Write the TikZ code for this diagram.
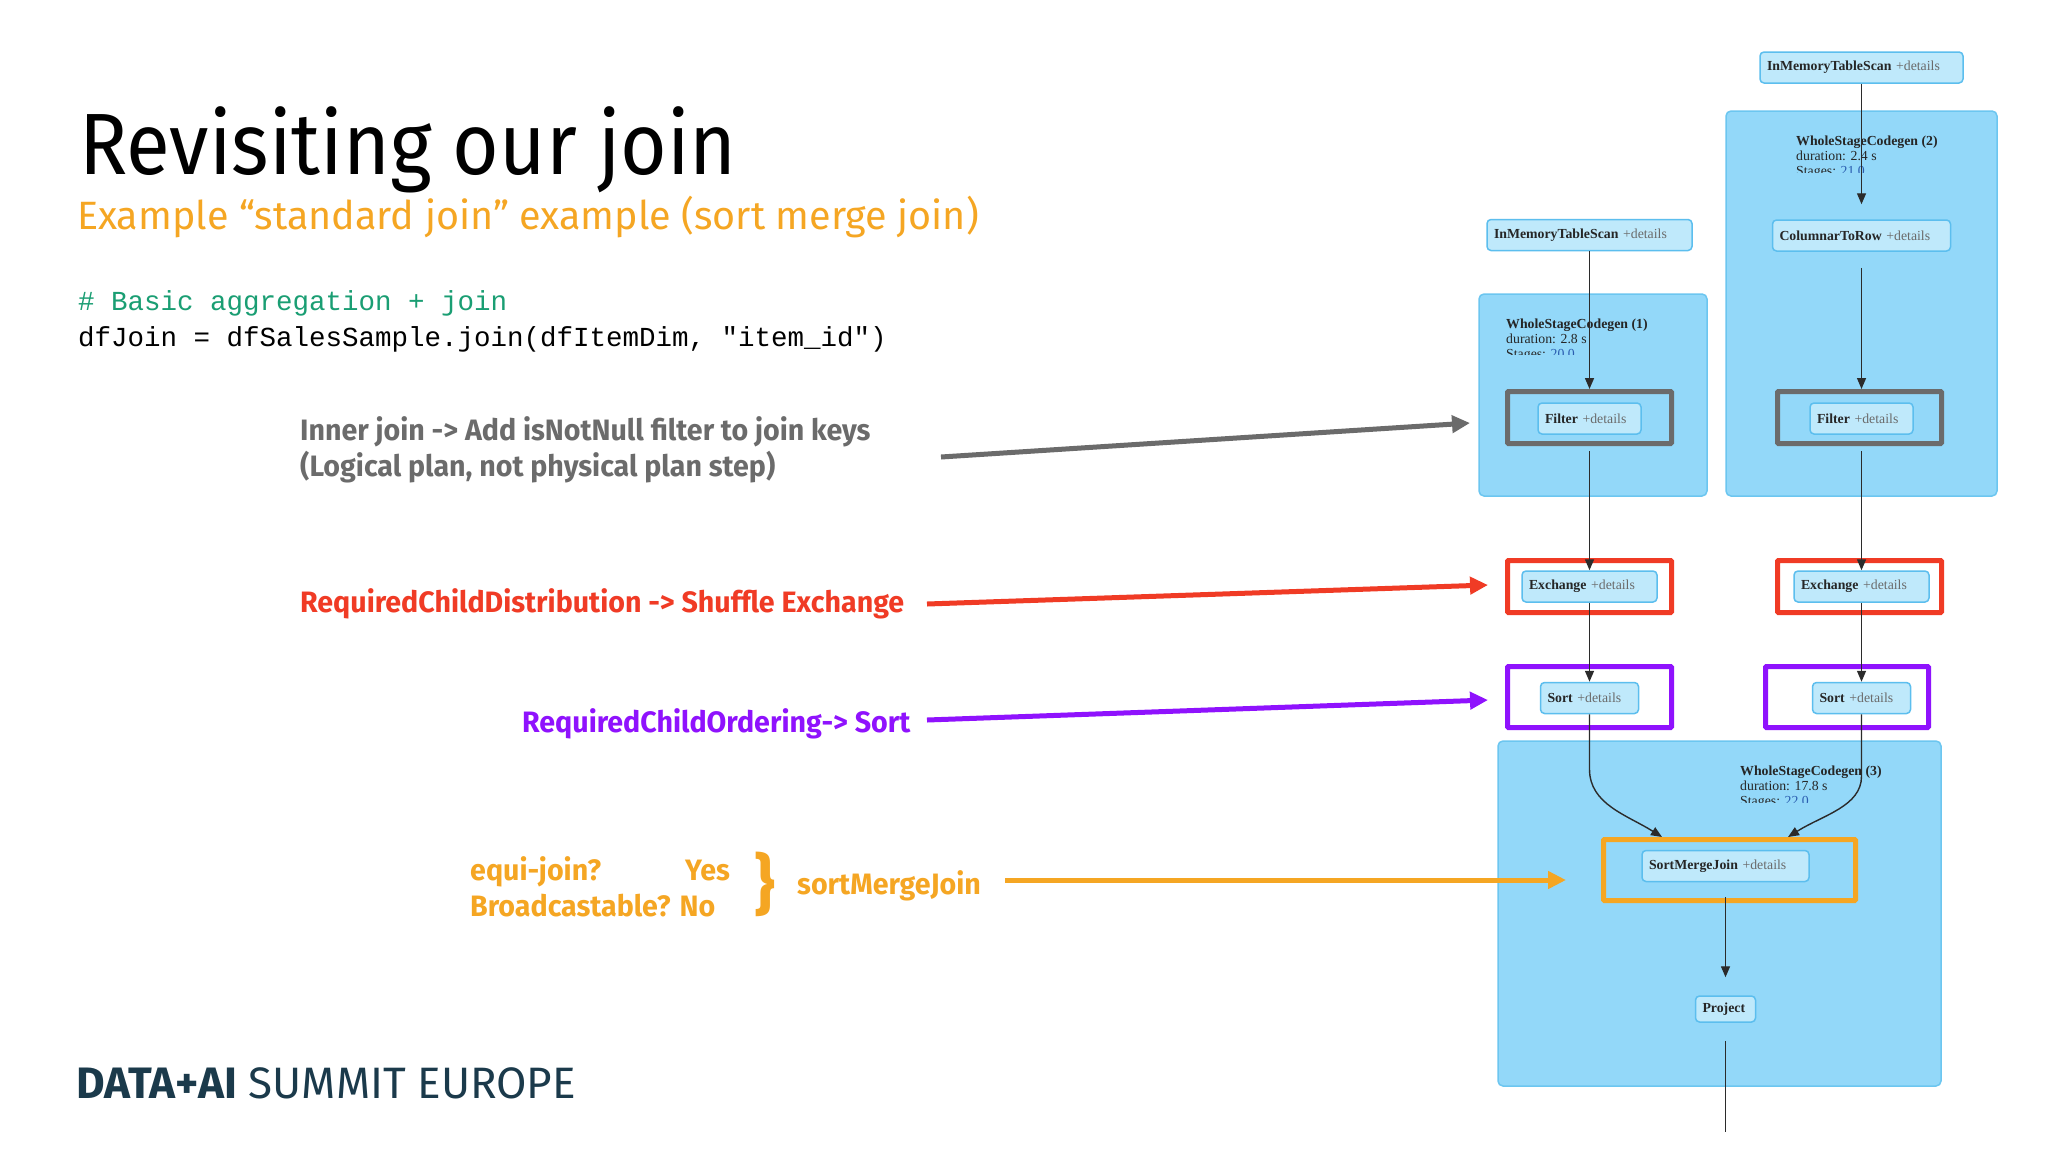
\documentclass[tikz,border=0pt]{standalone}
\usepackage{fontspec}
\usetikzlibrary{arrows.meta}
\setmainfont{Fira Sans}
\newfontfamily\titlefont[FakeStretch=0.92]{Fira Sans}
\newfontfamily\notefont[FakeStretch=0.97]{Fira Sans}
\newfontfamily\codefont{Liberation Mono}
\newfontfamily\graphfont{Liberation Serif}

\definecolor{subtitleorange}{HTML}{F5A623}
\definecolor{codegreen}{HTML}{1A9E73}
\definecolor{notegrey}{HTML}{6B6B6B}
\definecolor{notered}{HTML}{F03B25}
\definecolor{notepurple}{HTML}{8F12FD}
\definecolor{footerteal}{HTML}{1B3A4B}
\definecolor{clusterfill}{HTML}{93D8F9}
\definecolor{clusterborder}{HTML}{6CC6F0}
\definecolor{nodefill}{HTML}{BFE9FB}
\definecolor{nodeborder}{HTML}{5CBEEE}
\definecolor{detailgrey}{HTML}{6A6A6A}
\definecolor{linkblue}{HTML}{2A5DB0}
\definecolor{edgecol}{HTML}{2B2B2B}

\newcommand{\plusdetails}{\textcolor{detailgrey}{\mdseries +details}}

\begin{document}
\begin{tikzpicture}[
    x = 1pt, y = -1pt,
    slidetext/.style={anchor=base west, inner sep=0pt},
    notetext/.style={anchor=base west, inner sep=0pt, font=\notefont\bfseries\fontsize{29.5}{32}\selectfont},
    cluster/.style={draw=clusterborder, fill=clusterfill, line width=1.5pt, rounded corners=5pt, inner sep=0pt},
    plannode/.style={draw=nodeborder, fill=nodefill, line width=1.5pt, rounded corners=4pt, inner xsep=7pt, inner ysep=0pt, minimum height=31pt, text width=#1, align=left, font=\graphfont\bfseries\fontsize{13.8}{15}\selectfont, text=black!85},
    planlabel/.style={anchor=base west, inner sep=0pt, font=\graphfont\fontsize{13.8}{15}\selectfont, text=black!85},
    frame/.style={draw=#1, line width=5pt, rounded corners=1pt, inner sep=0pt},
    graphedge/.style={draw=edgecol, line width=1.4pt, -{Triangle[length=11pt, width=9pt]}},
    graphline/.style={draw=edgecol, line width=1.4pt},
    slidearrow/.style={draw=#1, line width=5pt, -{Triangle[length=18pt, width=17pt]}}
]
    % Page
    \fill[white] (0,0) rectangle (2048,1152);
    \useasboundingbox (0,0) rectangle (2048,1152);

    % Title and code
    \node[slidetext, font=\titlefont\fontsize{87}{90}\selectfont] (title) at (79,174) {Revisiting our join};
    \node[slidetext, font=\fontsize{39.5}{42}\selectfont, text=subtitleorange] (subtitle) at (77,229) {Example “standard join” example (sort merge join)};
    \node[slidetext, font=\codefont\fontsize{27.5}{30}\selectfont, text=codegreen] (comment) at (78,310) {\# Basic aggregation + join};
    \node[slidetext, font=\codefont\fontsize{27.5}{30}\selectfont] (code) at (78,346) {dfJoin = dfSalesSample.join(dfItemDim, "item\_id")};

    % Notes
    \node[notetext, text=notegrey] (notnull) at (300,440) {Inner join -> Add isNotNull filter to join keys};
    \node[notetext, text=notegrey] (logical) at (300,476) {(Logical plan, not physical plan step)};
    \node[notetext, text=notered] (distrib) at (300,612) {RequiredChildDistribution -> Shuffle Exchange};
    \node[notetext, text=notepurple] (ordering) at (522,732) {RequiredChildOrdering-> Sort};
    \node[notetext, text=subtitleorange] (equi) at (470,880) {equi-join?};
    \node[notetext, text=subtitleorange] (yes) at (685,880) {Yes};
    \node[notetext, text=subtitleorange] (bcast) at (470,916) {Broadcastable? No};
    \node[font=\notefont\bfseries\fontsize{66}{66}\selectfont, text=subtitleorange, inner sep=0pt] (brace) at (765,884) {\}};
    \node[notetext, text=subtitleorange] (smjtxt) at (797,894) {sortMergeJoin};

    % Footer
    \node[slidetext, font=\fontsize{44}{46}\selectfont, text=footerteal] (footer) at (76,1098) {\textbf{DATA+AI} SUMMIT EUROPE};

    % Clusters
    \node[cluster, minimum width=228pt, minimum height=202pt] (cl1) at (1593,395) {};
    \node[cluster, minimum width=271pt, minimum height=385pt] (cl2) at (1861.5,303.5) {};
    \node[cluster, minimum width=443pt, minimum height=345pt] (cl3) at (1719.5,913.5) {};

    % Cluster labels
    \node[planlabel] (wsc1) at (1506,328) {\textbf{WholeStageCodegen (1)}};
    \node[planlabel] (dur1) at (1506,343) {duration: 2.8 s};
    \node[planlabel] (wsc2) at (1796,145) {\textbf{WholeStageCodegen (2)}};
    \node[planlabel] (dur2) at (1796,160) {duration: 2.4 s};
    \node[planlabel] (wsc3) at (1740,775) {\textbf{WholeStageCodegen (3)}};
    \node[planlabel] (dur3) at (1740,790) {duration: 17.8 s};
    \begin{scope}
        \clip (1500,345) rectangle (1700,354);
        \node[planlabel] (stg1) at (1506,358) {Stages: \textcolor{linkblue}{20.0}};
    \end{scope}
    \begin{scope}
        \clip (1790,162) rectangle (1990,172);
        \node[planlabel] (stg2) at (1796,175) {Stages: \textcolor{linkblue}{21.0}};
    \end{scope}
    \begin{scope}
        \clip (1735,792) rectangle (1935,802);
        \node[planlabel] (stg3) at (1740,805) {Stages: \textcolor{linkblue}{22.0}};
    \end{scope}

    % Plan nodes
    \node[plannode=189pt] (imtsR) at (1861.5,67.5) {InMemoryTableScan \plusdetails};
    \node[plannode=191pt] (imtsL) at (1589.5,235) {InMemoryTableScan \plusdetails};
    \node[plannode=164pt] (c2r) at (1861.5,235.5) {ColumnarToRow \plusdetails};
    \node[plannode=89pt] (filterL) at (1589.5,418.5) {Filter \plusdetails};
    \node[plannode=89pt] (filterR) at (1861.5,418.5) {Filter \plusdetails};
    \node[plannode=121pt] (exchL) at (1589.5,586.5) {Exchange \plusdetails};
    \node[plannode=121pt] (exchR) at (1861.5,586.5) {Exchange \plusdetails};
    \node[plannode=84pt] (sortL) at (1589.5,698) {Sort \plusdetails};
    \node[plannode=84pt] (sortR) at (1861.5,698) {Sort \plusdetails};
    \node[plannode=153pt] (smj) at (1725.5,866) {SortMergeJoin \plusdetails};
    \node[plannode=46pt, minimum height=26pt] (proj) at (1725.5,1009) {Project};

    % Highlight frames
    \node[frame=notegrey, minimum width=164pt, minimum height=52pt] (frameFL) at (1589.5,417.5) {};
    \node[frame=notegrey, minimum width=164pt, minimum height=52pt] (frameFR) at (1859.5,417.5) {};
    \node[frame=notered, minimum width=164pt, minimum height=52pt] (frameEL) at (1589.5,586.5) {};
    \node[frame=notered, minimum width=164pt, minimum height=52pt] (frameER) at (1859.5,586.5) {};
    \node[frame=notepurple, minimum width=164pt, minimum height=61pt] (frameSL) at (1589.5,697) {};
    \node[frame=notepurple, minimum width=163pt, minimum height=61pt] (frameSR) at (1847,697) {};
    \node[frame=subtitleorange, minimum width=252pt, minimum height=61pt] (frameJ) at (1729.5,870) {};

    % Plan edges
    \draw[graphedge, shorten >=15pt] (imtsR.south) -- (c2r.north);
    \draw[graphedge, shorten <=16pt] (c2r.south) -- (c2r.south |- frameFR.north);
    \draw[graphedge] (imtsL.south) -- (frameFL.north);
    \draw[graphedge, shorten <=5pt] (frameFL.south) -- (exchL.north);
    \draw[graphedge, shorten <=5pt] (filterR.south |- frameFR.south) -- (exchR.north);
    \draw[graphedge] (exchL.south) -- (sortL.north);
    \draw[graphedge] (exchR.south) -- (sortR.north);
    \draw[graphedge] (sortL.south) -- ++(0,55) .. controls +(0,35) and +(-35,-22) .. ([xshift=-67.5pt]frameJ.north);
    \draw[graphedge] (sortR.south) -- ++(0,62) .. controls +(0,30) and +(35,-22) .. ([xshift=58.5pt]frameJ.north);
    \draw[graphedge, shorten <=15pt, shorten >=18pt] (smj.south) -- (proj.north);
    \coordinate (planout) at (1725.5,1132);
    \draw[graphline, shorten <=18pt] (proj.south) -- (planout);

    % Note arrows
    \coordinate (notnullfrom) at (941,457);
    \coordinate (notnullto) at (1470,423);
    \coordinate (distribfrom) at (927,604);
    \coordinate (distribto) at (1488,585);
    \coordinate (orderingfrom) at (927,720);
    \coordinate (orderingto) at (1488,700);
    \coordinate (smjfrom) at (1005,880);
    \coordinate (smjto) at (1566,880);
    \draw[slidearrow=notegrey] (notnullfrom) -- (notnullto);
    \draw[slidearrow=notered] (distribfrom) -- (distribto);
    \draw[slidearrow=notepurple] (orderingfrom) -- (orderingto);
    \draw[slidearrow=subtitleorange] (smjfrom) -- (smjto);
\end{tikzpicture}
\end{document}
